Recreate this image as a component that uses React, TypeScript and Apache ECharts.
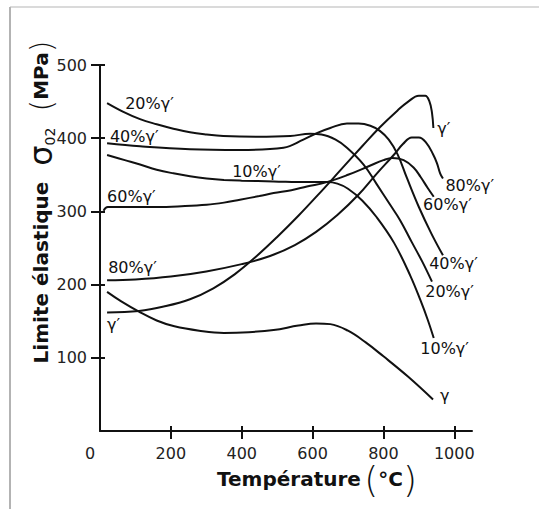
import React, { useEffect, useRef } from "react";
import * as echarts from "echarts";

// Temperature (°C) vs yield strength σ0.2 (MPa)
const xTickValues = [200, 400, 600, 800, 1000];
const xLabelValues = [0, 200, 400, 600, 800, 1000];
const yTickValues = [100, 200, 300, 400, 500];

const gammaData = [
  [20, 190], [60, 177], [110, 163], [160, 151], [210, 143], [280, 137], [350, 134],
  [420, 135], [490, 138], [560, 144], [610, 147], [650, 146], [700, 137], [750, 121],
  [800, 102], [870, 74], [940, 43],
];
const gp10Data = [
  [20, 377], [70, 370], [113, 364], [160, 357], [207, 352], [254, 348], [301, 345],
  [350, 343], [400, 342], [490, 341], [584, 340], [640, 340], [670, 338], [700, 331],
  [740, 315], [781, 292], [830, 257], [876, 212], [905, 178], [925, 152], [942, 127],
];
const gp20Data = [
  [20, 448], [66, 436], [113, 426], [160, 419], [207, 413], [254, 408], [301, 405],
  [348, 403], [443, 402], [537, 403], [593, 406], [625, 405], [665, 398], [697, 387],
  [744, 364], [780, 338], [819, 309], [847, 288], [880, 258], [910, 231], [937, 204],
];
const gp40Data = [
  [20, 393], [113, 389], [254, 385], [395, 384], [518, 387], [574, 398], [612, 407],
  [650, 414], [697, 420], [730, 420], [763, 417], [790, 410], [815, 398], [840, 378],
  [866, 346], [900, 306], [935, 270], [968, 240],
];
const gp60Data = [
  [10, 301], [22, 306], [100, 306], [160, 306], [230, 307], [301, 309], [350, 312],
  [395, 316], [450, 321], [490, 325], [540, 329], [584, 334], [640, 340], [700, 350],
  [760, 362], [800, 370], [825, 373], [857, 370], [885, 360], [905, 347], [925, 332],
  [942, 320],
];
const gp80Data = [
  [20, 206], [100, 207], [200, 211], [300, 218], [400, 228], [480, 239], [550, 254],
  [610, 272], [670, 295], [730, 323], [780, 351], [829, 377], [855, 392], [880, 401],
  [900, 401], [922, 393], [940, 378], [951, 366], [960, 352], [968, 345],
];
const gp100Data = [
  [20, 162], [110, 164], [180, 170], [254, 180], [320, 195], [380, 214], [440, 238],
  [500, 265], [560, 294], [620, 325], [680, 357], [740, 389], [790, 415], [840, 438],
  [870, 450], [900, 458], [918, 458], [930, 450], [937, 435], [941, 414],
];

const curves = [
  { name: "γ", data: gammaData },
  { name: "10%γ′", data: gp10Data },
  { name: "20%γ′", data: gp20Data },
  { name: "40%γ′", data: gp40Data },
  { name: "60%γ′", data: gp60Data },
  { name: "80%γ′", data: gp80Data },
  { name: "γ′", data: gp100Data },
];

// curve annotations: text, anchor (left edge, vertical middle) in data coords
const curveLabels = [
  { text: "20%γ′", t: 71, v: 447 },
  { text: "40%γ′", t: 28, v: 402 },
  { text: "10%γ′", t: 373, v: 354 },
  { text: "60%γ′", t: 20, v: 321 },
  { text: "80%γ′", t: 23, v: 223 },
  { text: "γ′", t: 20, v: 145 },
  { text: "γ′", t: 952, v: 413 },
  { text: "80%γ′", t: 975, v: 335 },
  { text: "60%γ′", t: 912, v: 309 },
  { text: "40%γ′", t: 929, v: 229 },
  { text: "20%γ′", t: 918, v: 191 },
  { text: "10%γ′", t: 904, v: 113 },
  { text: "γ", t: 960, v: 48 },
];

const F = "'DejaVu Sans', sans-serif";
const INK = "#111";

export default function App() {
  const ref = useRef<HTMLDivElement>(null);
  useEffect(() => {
    const chart = echarts.init(ref.current!, null, { renderer: "svg" });
    const tickStyle = { color: INK, width: 2 };
    chart.setOption({
      animation: false,
      backgroundColor: "#fff",
      grid: { left: 100, right: 67, top: 65, bottom: 78, containLabel: false },
      xAxis: [
        {
          type: "value", min: 0, max: 1050, position: "bottom",
          axisLine: { show: true, lineStyle: { color: INK, width: 2 } },
          axisTick: { show: true, customValues: xTickValues, length: 8, lineStyle: tickStyle },
          axisLabel: {
            customValues: xLabelValues, margin: 14, fontSize: 16, fontFamily: F, color: "#222",
            formatter: (v: number) => (v === 0 ? "{z|0}" : String(v)),
            rich: { z: { fontSize: 16, fontFamily: F, color: "#222", padding: [0, 20, 0, 0] } },
          },
          splitLine: { show: false },
        },
        {
          type: "value", min: 0, max: 1050, position: "bottom",
          axisLine: { show: false },
          axisTick: { show: true, inside: true, customValues: xTickValues, length: 5, lineStyle: tickStyle },
          axisLabel: { show: false },
          splitLine: { show: false },
        },
      ],
      yAxis: [
        {
          type: "value", min: 0, max: 500, position: "left",
          axisLine: { show: true, lineStyle: { color: INK, width: 2 } },
          axisTick: { show: true, customValues: yTickValues, length: 9, lineStyle: tickStyle },
          axisLabel: {
            customValues: yTickValues, margin: 13, fontSize: 16, fontFamily: F, color: "#222",
            formatter: (v: number) => String(v),
          },
          splitLine: { show: false },
        },
        {
          type: "value", min: 0, max: 500, position: "left",
          axisLine: { show: false },
          axisTick: { show: true, inside: true, customValues: yTickValues, length: 5, lineStyle: tickStyle },
          axisLabel: { show: false },
          splitLine: { show: false },
        },
      ],
      series: curves.map((c) => ({
        type: "line",
        name: c.name,
        data: c.data,
        xAxisIndex: 0,
        yAxisIndex: 0,
        smooth: 0.4,
        symbol: "none",
        showSymbol: false,
        silent: true,
        lineStyle: { color: INK, width: 2 },
      })),
    });

    const labelGraphics = curveLabels.map((l) => {
      const p = chart.convertToPixel({ xAxisIndex: 0, yAxisIndex: 0 }, [l.t, l.v]) as number[];
      return {
        type: "text",
        x: p[0],
        y: p[1],
        style: {
          text: l.text, fill: INK, font: `16px ${F}`,
          textAlign: "left", textVerticalAlign: "middle",
        },
      };
    });

    chart.setOption({
      graphic: [
        { type: "line", shape: { x1: 10, y1: 7, x2: 10, y2: 509 }, style: { stroke: "#9a9a9a", lineWidth: 1.5 } },
        { type: "line", shape: { x1: 10, y1: 7, x2: 539, y2: 7 }, style: { stroke: "#b5b5b5", lineWidth: 1 } },
        ...labelGraphics,
        {
          type: "text",
          x: 41, y: 202, rotation: Math.PI / 2,
          style: {
            text: "{b|Limite élastique}{g| }{s|σ}{sub|02}{g| }{p|(}{b|MPa}{p|)}",
            textAlign: "center", textVerticalAlign: "middle", fill: INK,
            rich: {
              b: { fontFamily: F, fontWeight: "bold", fontSize: 20, fill: INK },
              g: { fontFamily: F, fontSize: 16, width: 16, fill: INK },
              s: { fontFamily: F, fontSize: 32, fill: INK },
              sub: { fontFamily: F, fontSize: 14, fill: INK, verticalAlign: "bottom", padding: [12, 0, 0, 0] },
              p: { fontFamily: F, fontSize: 30, fontWeight: "lighter", fill: INK },
            },
          },
        },
        {
          type: "text",
          x: 317, y: 479,
          style: {
            text: "{b|Température} {p|(}{c|°C}{p|)}",
            textAlign: "center", textVerticalAlign: "middle", fill: INK,
            rich: {
              b: { fontFamily: F, fontWeight: "bold", fontSize: 20, fill: INK },
              c: { fontFamily: F, fontWeight: "bold", fontSize: 20, fill: INK },
              p: { fontFamily: F, fontSize: 36, fontWeight: "lighter", fill: INK },
            },
          },
        },
      ],
    });

    return () => chart.dispose();
  }, []);
  return (
    <div
      ref={ref}
      style={{ position: "absolute", left: 0, top: 0, width: 539, height: 509 }}
    />
  );
}
